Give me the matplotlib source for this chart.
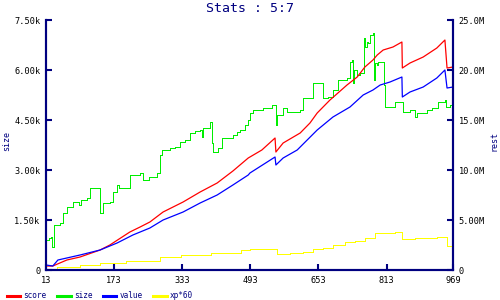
import matplotlib
matplotlib.use("Agg")
import matplotlib.pyplot as plt
from matplotlib.ticker import FuncFormatter

# size (left axis), step data
size_x = [13, 20, 25, 28, 32, 46, 53, 62, 76, 90, 95, 110, 116, 135, 140, 147, 163, 170, 180, 185,
          210, 234, 241, 255, 274, 281, 285, 304, 315, 328, 340, 351, 363, 375, 379, 382, 394, 398,
          403, 405, 417, 426, 445, 452, 462, 469, 480, 488, 492, 499, 523, 544, 551, 553, 556, 570,
          579, 610, 617, 638, 640, 661, 664, 675, 687, 699, 720, 727, 732, 734, 737, 744, 751, 760,
          763, 766, 769, 774, 781, 783, 786, 791, 793, 805, 807, 809, 833, 850, 852, 868, 880, 884,
          908, 920, 934, 950, 953, 962, 969]
size_y = [900, 950, 1000, 680, 1350, 1400, 1700, 1900, 2050, 1950, 2100, 2150, 2450, 2450, 1700,
          2000, 2050, 2350, 2550, 2450, 2850, 2900, 2700, 2800, 2900, 3450, 3600, 3650, 3700, 3850,
          3900, 4100, 4170, 4200, 4000, 4250, 4250, 4450, 3800, 3550, 3650, 3950, 3950, 4050, 4150,
          4200, 4350, 4500, 4700, 4800, 4850, 4950, 4950, 4350, 4650, 4850, 4750, 4800, 5150, 5150,
          5600, 5600, 5150, 5200, 5400, 5700, 5750, 6250, 6300, 5600, 6000, 5850, 5900, 6950, 6700,
          6850, 6800, 7050, 7100, 5700, 6200, 6150, 6250, 6250, 5550, 4900, 5050, 5050, 4750, 4800,
          4600, 4700, 4800, 4850, 5050, 5100, 4900, 4950, 4950]

# score (right axis)
score_x = [13, 29, 62, 93, 140, 163, 210, 234, 257, 288, 335, 375, 415, 452, 488, 520, 551, 553,
           570, 610, 633, 650, 680, 720, 744, 762, 781, 791, 805, 828, 849, 850, 868, 899, 931,
           950, 955, 969]
score_y = [0.4, 0.4, 1.0, 1.3, 2.0, 2.5, 3.8, 4.3, 4.8, 5.8, 6.8, 7.8, 8.7, 9.9, 11.2, 12.0, 13.2,
           11.8, 12.7, 13.7, 14.7, 15.7, 17.0, 18.5, 19.3, 20.3, 21.0, 21.5, 22.0, 22.3, 22.8, 20.2,
           20.7, 21.3, 22.2, 23.0, 20.2, 20.3]

# value (right axis)
value_x = [13, 29, 41, 93, 140, 180, 217, 257, 288, 335, 375, 415, 452, 488, 492, 551, 553, 570,
           603, 650, 687, 727, 758, 781, 798, 821, 849, 850, 868, 899, 931, 950, 955, 969]
value_y = [0.5, 0.4, 1.0, 1.5, 2.0, 2.7, 3.5, 4.2, 5.0, 5.8, 6.7, 7.5, 8.5, 9.5, 9.7, 11.3, 10.5,
           11.2, 12.0, 14.0, 15.3, 16.3, 17.5, 18.0, 18.5, 18.8, 19.3, 17.3, 17.8, 18.3, 19.2, 20.0,
           18.2, 18.3]

# xp*60 (right axis), step data
xp_x = [13, 40, 93, 140, 200, 281, 330, 400, 470, 492, 556, 586, 617, 640, 664, 687, 715, 739,
        762, 786, 833, 849, 880, 931, 955, 969]
xp_y = [0.1, 0.3, 0.5, 0.7, 0.9, 1.3, 1.5, 1.7, 2.0, 2.1, 1.6, 1.7, 1.8, 2.1, 2.2, 2.5, 2.8, 2.9,
        3.2, 3.7, 3.8, 3.1, 3.2, 3.3, 2.4, 2.4]

x_ticks = [13, 173, 333, 493, 653, 813, 969]
navy = "#000080"
mono = "DejaVu Sans Mono"


def short(v, unit):
    if v == 0:
        return "0"
    d = 2 if v < 10 else (1 if v < 100 else 0)
    return f"{v:.{d}f}{unit}"


fig = plt.figure(figsize=(5, 3), dpi=100)
ax = fig.add_axes([0.092, 0.1, 0.814, 0.8333])
ax2 = ax.twinx()

lw = 0.72
l_size, = ax.plot(size_x, size_y, color="#00ee00", lw=lw, drawstyle="steps-post", antialiased=False)
l_score, = ax2.plot(score_x, [v * 1e6 for v in score_y], color="#ff0000", lw=0.9)
l_value, = ax2.plot(value_x, [v * 1e6 for v in value_y], color="#0000ff", lw=0.9)
l_xp, = ax2.plot(xp_x, [v * 1e6 for v in xp_y], color="#ffff00", lw=lw, drawstyle="steps-post",
                 antialiased=False)

ax.set_xlim(13, 969)
ax.set_ylim(0, 7500)
ax2.set_ylim(0, 25e6)
ax.set_xticks(x_ticks)
ax.set_yticks([0, 1500, 3000, 4500, 6000, 7500])
ax2.set_yticks([0, 5e6, 10e6, 15e6, 20e6, 25e6])
ax.yaxis.set_major_formatter(FuncFormatter(lambda v, p: short(v / 1000, "k")))
ax2.yaxis.set_major_formatter(FuncFormatter(lambda v, p: short(v / 1e6, "M")))

for a in (ax, ax2):
    for s in a.spines.values():
        s.set_color(navy)
        s.set_linewidth(1.5)
    a.spines["top"].set_visible(False)
    a.tick_params(direction="in", length=4, width=1.5, color=navy, labelsize=6.2,
                  labelcolor="black", pad=4)
    for t in a.get_xticklabels() + a.get_yticklabels():
        t.set_family(mono)

fig.text(0.013, 0.53, "size", rotation=90, ha="center", va="center", color=navy,
         fontsize=6, family=mono)
fig.text(0.987, 0.53, "rest", rotation=90, ha="center", va="center", color=navy,
         fontsize=6, family=mono)
fig.suptitle("Stats : 5:7", x=0.5, y=0.995, color=navy, fontsize=9.5, family=mono)

leg = fig.legend([l_score, l_size, l_value, l_xp], ["score", "size", "value", "xp*60"],
                 loc="lower left", bbox_to_anchor=(0.0, -0.025), ncol=4, frameon=False,
                 prop={"family": mono, "size": 5.6}, handlelength=1.7,
                 handletextpad=0.4, columnspacing=1.4)
for h in leg.legend_handles:
    h.set_linewidth(2.2)
for t in leg.get_texts():
    t.set_color(navy)

fig.savefig("out.png", dpi=100)
plt.close()
